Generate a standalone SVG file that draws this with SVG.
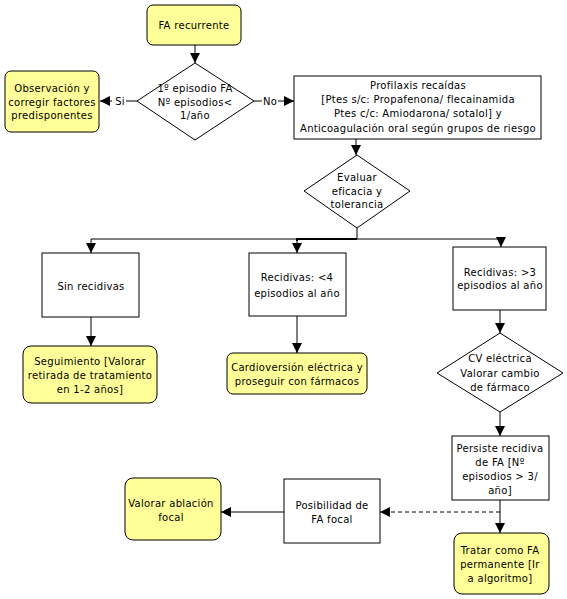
<svg xmlns="http://www.w3.org/2000/svg" width="567" height="599" viewBox="0 0 567 599">
<defs>
<style>
.t{font-family:"DejaVu Sans",Verdana,sans-serif;font-size:10px;fill:#000;text-anchor:middle;letter-spacing:0.3px}
.y{fill:#ffff99;stroke:#000;stroke-width:1}
.w{fill:#fff;stroke:#000;stroke-width:1}
.c{fill:none;stroke:#000;stroke-width:1}
.d{fill:none;stroke:#000;stroke-width:1;stroke-dasharray:4,3}
</style>
<marker id="a" viewBox="0 0 10 10" refX="10" refY="5" markerWidth="10" markerHeight="10" markerUnits="userSpaceOnUse" orient="auto">
<path d="M0,0 L10,5 L0,10 Z" fill="#000"/>
</marker>
</defs>
<rect width="567" height="599" fill="#fff"/>
<g id="connectors">
<line class="c" x1="195" y1="45" x2="195" y2="63" marker-end="url(#a)"/>
<line class="c" x1="137" y1="101" x2="100" y2="101" marker-end="url(#a)"/>
<line class="c" x1="254" y1="101" x2="294" y2="101" marker-end="url(#a)"/>
<line class="c" x1="356" y1="139" x2="356" y2="155" marker-end="url(#a)"/>
<polyline class="c" points="357,228 357,239 91,239 91,253" marker-end="url(#a)"/>
<polyline class="c" points="297,241 297,239 357,239" style="stroke-width:2"/>
<line class="c" x1="297" y1="239" x2="297" y2="253" marker-end="url(#a)"/>
<polyline class="c" points="357,239 501,239 501,247" marker-end="url(#a)"/>
<line class="c" x1="91" y1="317" x2="91" y2="346" marker-end="url(#a)"/>
<line class="c" x1="297" y1="316" x2="297" y2="353" marker-end="url(#a)"/>
<line class="c" x1="500" y1="310" x2="500" y2="333" marker-end="url(#a)"/>
<line class="c" x1="500" y1="412" x2="500" y2="436" marker-end="url(#a)"/>
<line class="c" x1="500" y1="500" x2="500" y2="533" marker-end="url(#a)"/>
<line class="d" x1="500" y1="512" x2="380" y2="512" marker-end="url(#a)"/>
<line class="c" x1="284" y1="512" x2="221" y2="512" marker-end="url(#a)"/>
<rect x="112" y="95" width="14" height="12" fill="#fff"/>
<text class="t" x="120" y="105">Si</text>
<rect x="262" y="95" width="16" height="12" fill="#fff"/>
<text class="t" x="270" y="105">No</text>
</g>
<g id="fa-recurrente">
<rect class="y" x="147" y="5" width="94" height="40" rx="6"/>
<text class="t" x="194" y="29">FA recurrente</text>
</g>
<g id="d1">
<polygon class="w" points="195,63 254,101 195,140 137,101"/>
<text class="t" x="195" y="92">1º episodio FA</text>
<text class="t" x="195" y="106">Nº episodios&lt;</text>
<text class="t" x="195" y="119">1/año</text>
</g>
<g id="observacion">
<rect class="y" x="5" y="71" width="94" height="61" rx="6"/>
<text class="t" x="52" y="92">Observación y</text>
<text class="t" x="52" y="106">corregir factores</text>
<text class="t" x="52" y="119">predisponentes</text>
</g>
<g id="profilaxis">
<rect class="w" x="294" y="76" width="247" height="63"/>
<text class="t" x="418" y="89">Profilaxis recaídas</text>
<text class="t" x="418" y="103">[Ptes s/c: Propafenona/ flecainamida</text>
<text class="t" x="418" y="117">Ptes c/c: Amiodarona/ sotalol] y</text>
<text class="t" x="418" y="132">Anticoagulación oral según grupos de riesgo</text>
</g>
<g id="evaluar">
<polygon class="w" points="357,155 410,191 357,228 304,191"/>
<text class="t" x="357" y="181">Evaluar</text>
<text class="t" x="357" y="195">eficacia y</text>
<text class="t" x="357" y="208">tolerancia</text>
</g>
<g id="sin-recidivas">
<rect class="w" x="42" y="253" width="97" height="64"/>
<text class="t" x="91" y="290">Sin recidivas</text>
</g>
<g id="recidivas-menor4">
<rect class="w" x="249" y="253" width="97" height="63"/>
<text class="t" x="297" y="281">Recidivas: &lt;4</text>
<text class="t" x="297" y="297">episodios al año</text>
</g>
<g id="recidivas-mayor3">
<rect class="w" x="453" y="247" width="93" height="63"/>
<text class="t" x="500" y="276">Recidivas: &gt;3</text>
<text class="t" x="500" y="289">episodios al año</text>
</g>
<g id="seguimiento">
<rect class="y" x="23" y="346" width="134" height="57" rx="8"/>
<text class="t" x="90" y="365">Seguimiento [Valorar</text>
<text class="t" x="90" y="379">retirada de tratamiento</text>
<text class="t" x="90" y="393">en 1-2 años]</text>
</g>
<g id="cardioversion">
<rect class="y" x="227" y="353" width="140" height="41" rx="6"/>
<text class="t" x="297" y="371">Cardioversión eléctrica y</text>
<text class="t" x="297" y="385">proseguir con fármacos</text>
</g>
<g id="cv-electrica">
<polygon class="w" points="500,333 563,373 500,412 437,373"/>
<text class="t" x="500" y="362">CV eléctrica</text>
<text class="t" x="500" y="377">Valorar cambio</text>
<text class="t" x="500" y="391">de fármaco</text>
</g>
<g id="persiste">
<rect class="w" x="452" y="436" width="97" height="64"/>
<text class="t" x="500" y="452">Persiste recidiva</text>
<text class="t" x="500" y="466">de FA [Nº</text>
<text class="t" x="500" y="480">episodios &gt; 3/</text>
<text class="t" x="500" y="494">año]</text>
</g>
<g id="tratar">
<rect class="y" x="454" y="533" width="95" height="61" rx="8"/>
<text class="t" x="500" y="554">Tratar como FA</text>
<text class="t" x="500" y="568">permanente [Ir</text>
<text class="t" x="500" y="582">a algoritmo]</text>
</g>
<g id="posibilidad">
<rect class="w" x="284" y="479" width="96" height="64"/>
<text class="t" x="332" y="509">Posibilidad de</text>
<text class="t" x="332" y="523">FA focal</text>
</g>
<g id="valorar-ablacion">
<rect class="y" x="125" y="478" width="96" height="62" rx="8"/>
<text class="t" x="171" y="507">Valorar ablación</text>
<text class="t" x="171" y="521">focal</text>
</g>
</svg>
